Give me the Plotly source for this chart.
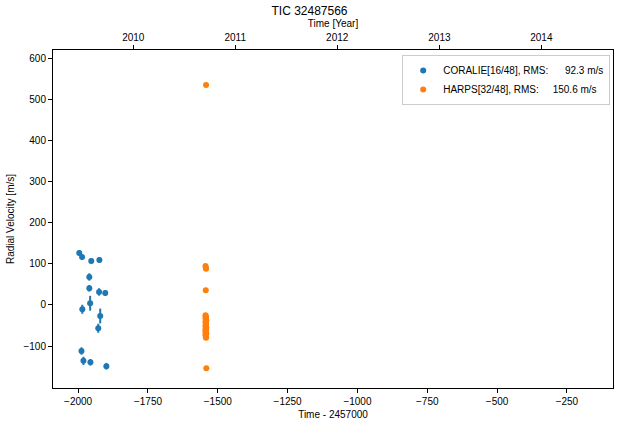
import datetime
import plotly.graph_objects as go

# CORALIE radial velocities (time - 2457000, RV, error)
coralie_t = [-1996, -1986, -1953, -1924, -1960, -1960, -1925, -1903,
             -1957, -1985, -1921, -1928, -1988, -1981, -1956, -1899]
coralie_rv = [126.5, 116.8, 107, 109.5, 68, 40.6, 31.6, 29.2,
              4.1, -10.5, -26.8, -56.7, -112, -136, -139.4, -149]
coralie_err = [7, 7, 6, 7, 9, 8, 9, 7,
               18, 11, 18, 11, 9, 10, 8, 8]

# HARPS radial velocities
harps_t = [-1542, -1544, -1543, -1542, -1543,
           -1544, -1543, -1542, -1544, -1543, -1542, -1541, -1544, -1543,
           -1542, -1544, -1543, -1542, -1541, -1544, -1543, -1542, -1544,
           -1543, -1542, -1541, -1544, -1543, -1542, -1543, -1542, -1541]
harps_rv = [535, 95, 91, 88, 36,
            -25, -28, -30, -32, -34, -36, -38, -41, -44,
            -47, -50, -52, -54, -56, -58, -60, -62, -64,
            -66, -68, -70, -72, -74, -76, -78, -80, -154]
harps_err = [2] * 32

# top axis: calendar years
years = [2010, 2011, 2012, 2013, 2014]
mjd0 = datetime.date(1858, 11, 17)
year_ticks = [(datetime.date(y, 1, 1) - mjd0).days + 2400000.5 - 2457000 for y in years]

blue = '#1f77b4'
orange = '#ff7f0e'
xrange = [-2090, -85]

fig = go.Figure()

fig.add_trace(go.Scatter(
    x=coralie_t, y=coralie_rv, mode='markers',
    name='CORALIE[16/48], RMS:      92.3 m/s',
    marker=dict(color=blue, size=6),
    error_y=dict(type='data', array=coralie_err, color=blue, thickness=2, width=0)))

fig.add_trace(go.Scatter(
    x=harps_t, y=harps_rv, mode='markers',
    name='HARPS[32/48], RMS:     150.6 m/s',
    marker=dict(color=orange, size=6),
    error_y=dict(type='data', array=harps_err, color=orange, thickness=2, width=0)))

# dummy trace so the year axis gets drawn
fig.add_trace(go.Scatter(x=[year_ticks[0]], y=[0], xaxis='x2', mode='markers',
                         marker=dict(opacity=0), showlegend=False, hoverinfo='skip'))

axis_style = dict(showline=True, linecolor='black', linewidth=1, ticks='outside',
                  ticklen=4, tickcolor='black', showgrid=False, zeroline=False,
                  tickfont=dict(size=10, color='black'), automargin=False)

fig.update_layout(
    width=619, height=425,
    margin=dict(l=53, r=6, t=50, b=37),
    paper_bgcolor='white', plot_bgcolor='white',
    font=dict(family='Liberation Sans, Arial, sans-serif', size=10, color='black'),
    title=dict(text='TIC 32487566', x=0.5, xanchor='center', y=0.985, yanchor='top',
               font=dict(size=12)),
    xaxis=dict(range=xrange, mirror=True, tickvals=[-2000, -1750, -1500, -1250, -1000, -750, -500, -250],
               title=dict(text='Time - 2457000', standoff=4, font=dict(size=10)), **axis_style),
    xaxis2=dict(range=xrange, overlaying='x', side='top', tickvals=year_ticks,
                ticktext=[str(y) for y in years],
                title=dict(text='Time [Year]', standoff=2, font=dict(size=10)), **axis_style),
    yaxis=dict(range=[-202, 620], mirror=True, tickvals=[-100, 0, 100, 200, 300, 400, 500, 600],
               title=dict(text='Radial Velocity [m/s]', standoff=6, font=dict(size=10)), **axis_style),
    legend=dict(x=0.995, y=0.985, xanchor='right', yanchor='top',
                bgcolor='rgba(255,255,255,0.8)', bordercolor='#cccccc', borderwidth=1,
                font=dict(size=10), tracegroupgap=0),
)

fig.write_html("out.html", config={'displayModeBar': False},
               post_script='document.body.style.margin = "0";')
